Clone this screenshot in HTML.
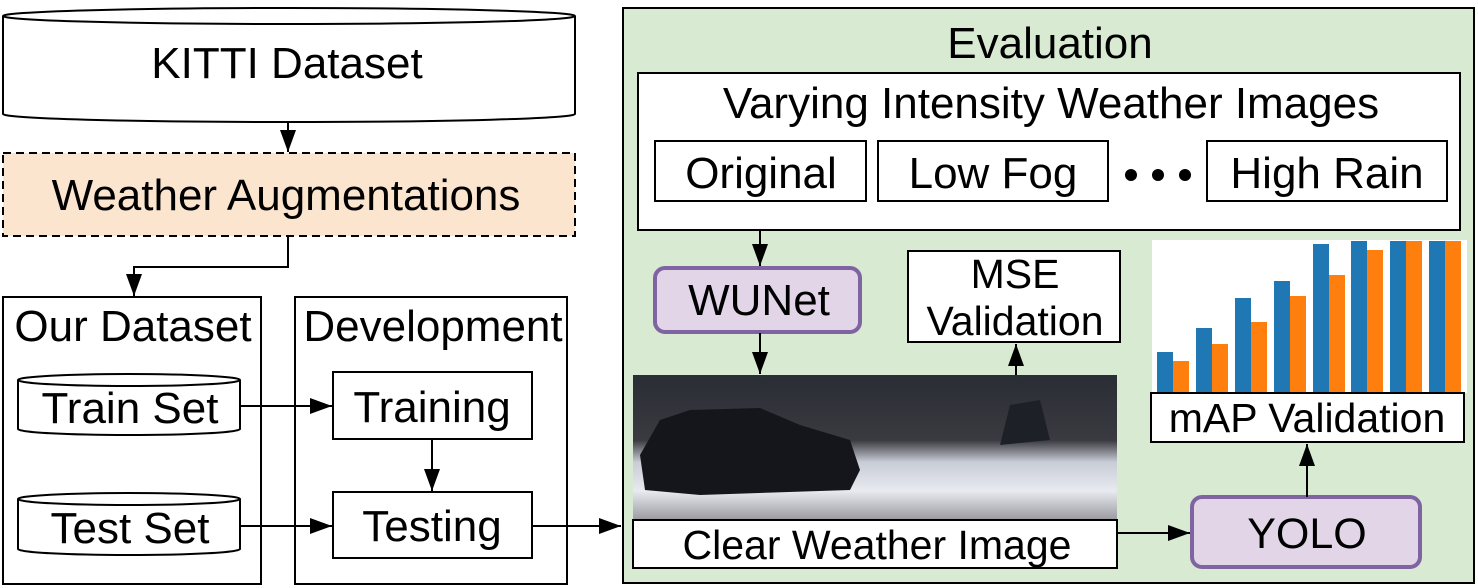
<!DOCTYPE html>
<html><head><meta charset="utf-8"><style>
html,body{margin:0;padding:0;background:#fff;}
svg{display:block;}
text{font-family:"Liberation Sans",sans-serif;fill:#000;}
</style></head><body>
<svg width="1478" height="588" viewBox="0 0 1478 588" xmlns="http://www.w3.org/2000/svg">
<defs>
<marker id="a2" viewBox="0 0 10 10" markerWidth="22" markerHeight="16" refX="10" refY="5" orient="auto" markerUnits="userSpaceOnUse" preserveAspectRatio="none"><path d="M0,0 L10,5 L0,10 z" fill="#000"/></marker>
<linearGradient id="ph" x1="0" y1="0" x2="0" y2="1">
<stop offset="0" stop-color="#2a2d35"/><stop offset="0.45" stop-color="#3a3a40"/><stop offset="0.6" stop-color="#c8ccd6"/><stop offset="0.8" stop-color="#e8eaf0"/><stop offset="1" stop-color="#9a9aa0"/></linearGradient>
</defs>
<g stroke="#000" stroke-width="2" fill="none">
<path d="M3,16 L3,114 A284,8 0 0 0 575,114 L575,16" fill="#fff"/>
<ellipse cx="289" cy="16" rx="286" ry="8" fill="#fff"/>
<rect x="3" y="153" width="572" height="83" fill="#fbe5cf" stroke-dasharray="8,5"/>
<rect x="3" y="297" width="258" height="287" fill="#fff"/>
<rect x="295" y="297" width="272" height="287" fill="#fff"/>
<path d="M18,380 L18,429 A111,6 0 0 0 240,429 L240,380" fill="#fff"/>
<ellipse cx="129" cy="380" rx="111" ry="6" fill="#fff"/>
<path d="M18,499 L18,549 A111,6 0 0 0 240,549 L240,499" fill="#fff"/>
<ellipse cx="129" cy="499" rx="111" ry="6" fill="#fff"/>
<rect x="333" y="372" width="199" height="67" fill="#fff"/>
<rect x="333" y="492" width="199" height="66" fill="#fff"/>
<rect x="623" y="8" width="851" height="575" fill="#d9ead3"/>
<rect x="638" y="73" width="822" height="157" fill="#fff"/>
<rect x="655" y="141" width="211" height="60" fill="#fff"/>
<rect x="878" y="141" width="230" height="60" fill="#fff"/>
<rect x="1207" y="141" width="240" height="60" fill="#fff"/>
<rect x="908" y="251" width="212" height="91" fill="#fff"/>
<rect x="655" y="268" width="205" height="64" rx="10" fill="#e1d5e7" stroke="#8064a2" stroke-width="4"/>
<rect x="1192" y="497" width="228" height="70" rx="10" fill="#e1d5e7" stroke="#8064a2" stroke-width="4"/>
</g>
<rect x="1152" y="240" width="315" height="153" fill="#fff"/>
<g fill="#1f77b4">
<rect x="1157" y="352" width="16" height="40"/><rect x="1196" y="328" width="16" height="64"/><rect x="1235" y="298" width="16" height="94"/><rect x="1274" y="281" width="16" height="111"/><rect x="1313" y="244" width="16" height="148"/><rect x="1351" y="241" width="16" height="151"/><rect x="1390" y="241" width="16" height="151"/><rect x="1429" y="241" width="16" height="151"/>
</g>
<g fill="#ff7f0e">
<rect x="1173" y="361" width="16" height="31"/><rect x="1212" y="344" width="16" height="48"/><rect x="1251" y="322" width="16" height="70"/><rect x="1290" y="296" width="16" height="96"/><rect x="1329" y="275" width="16" height="117"/><rect x="1367" y="250" width="16" height="142"/><rect x="1406" y="241" width="16" height="151"/><rect x="1445" y="241" width="16" height="151"/>
</g>
<rect x="1151" y="393" width="313" height="49" fill="#fff" stroke="#000" stroke-width="2"/>
<rect x="633" y="375" width="484" height="145" fill="url(#ph)"/>
<path d="M640,455 L660,420 L690,410 L760,408 L800,425 L850,440 L860,470 L850,490 L700,495 L645,490 Z" fill="#15161c"/>
<path d="M1000,445 L1010,405 L1040,400 L1050,440 Z" fill="#1e2028"/>
<rect x="633" y="520" width="484" height="48" fill="#fff" stroke="#000" stroke-width="2"/>
<circle cx="1131" cy="175" r="6"/><circle cx="1158" cy="175" r="6"/><circle cx="1185" cy="175" r="6"/>
<g stroke="#000" stroke-width="2" fill="none" marker-end="url(#a2)">
<path d="M288,122 L288,152"/>
<path d="M288,236 L288,267 L134,267 L134,296"/>
<path d="M240,406 L332,406"/>
<path d="M240,526 L332,526"/>
<path d="M432,439 L432,491"/>
<path d="M532,526 L621,526"/>
<path d="M760,230 L760,266"/>
<path d="M760,333 L760,374"/>
<path d="M1016,375 L1016,344"/>
<path d="M1117,533 L1190,533"/>
<path d="M1307,497 L1307,444"/>
</g>
<g font-size="44" text-anchor="middle">
<text x="287" y="78">KITTI Dataset</text>
<text x="286" y="210">Weather Augmentations</text>
<text x="1050" y="58">Evaluation</text>
<text x="1051" y="118">Varying Intensity Weather Images</text>
<text x="761" y="188">Original</text>
<text x="993" y="188">Low Fog</text>
<text x="1327" y="188">High Rain</text>
<text x="759" y="315">WUNet</text>
<text x="133" y="341">Our Dataset</text>
<text x="433" y="341">Development</text>
<text x="130" y="423">Train Set</text>
<text x="130" y="543">Test Set</text>
<text x="432" y="422">Training</text>
<text x="432" y="541">Testing</text>
</g>
<g font-size="41" text-anchor="middle">
<text x="1015" y="288">MSE</text>
<text x="1015" y="335">Validation</text>
<text x="1307" y="432">mAP Validation</text>
<text x="877" y="559">Clear Weather Image</text>
</g>
<text x="1307" y="548" font-size="43" text-anchor="middle">YOLO</text>
</svg>
</body></html>
